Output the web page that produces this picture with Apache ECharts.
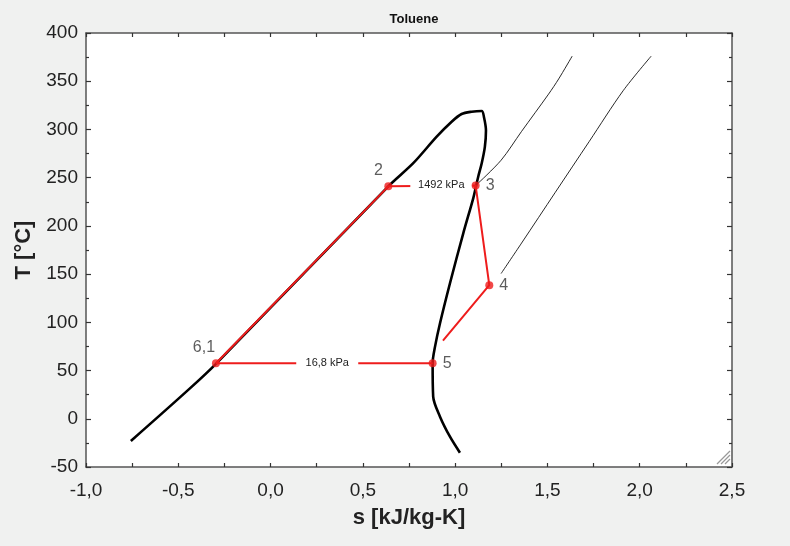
<!DOCTYPE html>
<html>
<head>
<meta charset="utf-8">
<title>Toluene T-s</title>
<script src="https://cdn.jsdelivr.net/npm/echarts@6/dist/echarts.min.js"></script>
<style>
  html, body { margin: 0; padding: 0; background: #f0f1f0; }
  #main { width: 790px; height: 546px; }
</style>
</head>
<body>
<div id="main"></div>
<script>
// saturation dome: liquid side up, over the top, vapour side down  [s, T]
var domeLine = [
  [-0.757, -23], [-0.44, 31], [-0.296, 57], [0.638, 241],
  [0.773, 265], [0.900, 292.5], [0.981, 308], [1.035, 316], [1.089, 318.4],
  [1.144, 319.2], [1.156, 313], [1.167, 299], [1.161, 282], [1.144, 265],
  [1.125, 251], [1.113, 241], [1.098, 228.6], [1.044, 192.3], [0.972, 140.5],
  [0.918, 99], [0.891, 74.8], [0.878, 57.5], [0.881, 23], [0.918, 2.2],
  [0.972, -18.6], [1.026, -35.2]
];
// superheated isobars (thin)
var isobarHigh = [
  [1.121, 243.6], [1.249, 268.1], [1.360, 298], [1.506, 336.6], [1.561, 352.4], [1.634, 376]
];
var isobarLow = [
  [1.249, 150.6], [1.360, 182.2], [1.543, 234.9], [1.726, 287.4], [1.910, 340.1], [2.062, 376]
];
// cycle state points
var pointNames = ['6,1', '2', '3', '4', '5'];
var pointS = [-0.296, 0.638, 1.111, 1.185, 0.878];
var pointT = [57.5, 241, 242, 138.5, 57.5];
var labelPos = ['top', 'top', 'right', 'right', 'right'];
// red cycle path (4 -> 5 stops short, like the original)
var cyclePath = [
  [-0.296, 57.5], [0.638, 241], [1.111, 242], [1.185, 138.5], [0.934, 81]
];
var cycleBottom = [[0.878, 57.5], [-0.296, 57.5]];
// pressure labels
var pressText = ['1492 kPa', '16,8 kPa'];
var pressS = [0.925, 0.307];
var pressT = [242, 57.5];

var xTicks = { min: -1.0, max: 2.5, step: 0.5 };
var yTicks = { min: -50, max: 400, step: 50 };

var FONT = "'Liberation Sans', Arial, sans-serif";
var chart = echarts.init(document.getElementById('main'), null, { renderer: 'canvas' });

function axisBase(extra) {
  var base = {
    type: 'value',
    axisLine: { show: true, onZero: false, lineStyle: { color: '#555', width: 1.5 } },
    axisTick: { show: true, inside: true, length: 5, lineStyle: { color: '#333', width: 1.2 } },
    minorTick: { show: true, splitNumber: 2, length: 3, lineStyle: { color: '#333', width: 1.2 } },
    splitLine: { show: false },
    minorSplitLine: { show: false }
  };
  return Object.assign(base, extra);
}

var points = pointNames.map(function (n, i) {
  return {
    value: [pointS[i], pointT[i]],
    name: n,
    label: { position: labelPos[i], distance: labelPos[i] === 'top' ? 4 : 6 }
  };
});
points[0].label.offset = [-12, 0];
points[1].label.offset = [-10, 0];

var pressData = pressText.map(function (t, i) {
  return { value: [pressS[i], pressT[i]], name: t };
});

chart.setOption({
  backgroundColor: '#f0f1f0',
  animation: false,
  title: {
    text: 'Toluene',
    left: 409, top: 8, textAlign: 'center',
    textStyle: { fontFamily: FONT, fontSize: 13, fontWeight: 'bold', color: '#111' }
  },
  grid: {
    left: 86, right: 58, top: 33, bottom: 79,
    show: true, backgroundColor: '#ffffff', borderWidth: 0
  },
  xAxis: [
    axisBase({
      min: xTicks.min, max: xTicks.max, interval: xTicks.step, position: 'bottom',
      name: 's [kJ/kg-K]', nameLocation: 'middle', nameGap: 40,
      nameTextStyle: { fontFamily: FONT, fontSize: 22, fontWeight: 'bold', color: '#222' },
      axisLabel: {
        margin: 14, fontFamily: FONT, fontSize: 19, color: '#222',
        formatter: function (v) { return v.toFixed(1).replace('.', ','); }
      },
      axisTick: { show: true, inside: true, length: 4, lineStyle: { color: '#333', width: 1.2 } },
      minorTick: { show: true, splitNumber: 2, length: 4, lineStyle: { color: '#333', width: 1.2 } }
    }),
    axisBase({
      min: xTicks.min, max: xTicks.max, interval: xTicks.step, position: 'top',
      axisLabel: { show: false },
      axisTick: { show: true, inside: true, length: 4, lineStyle: { color: '#333', width: 1.2 } },
      minorTick: { show: true, splitNumber: 2, length: 4, lineStyle: { color: '#333', width: 1.2 } }
    })
  ],
  yAxis: [
    axisBase({
      min: yTicks.min, max: yTicks.max, interval: yTicks.step, position: 'left',
      name: 'T [°C]', nameLocation: 'middle', nameGap: 48,
      nameTextStyle: { fontFamily: FONT, fontSize: 22, fontWeight: 'bold', color: '#222' },
      axisLabel: { margin: 8, fontFamily: FONT, fontSize: 19, color: '#222' }
    }),
    axisBase({
      min: yTicks.min, max: yTicks.max, interval: yTicks.step, position: 'right',
      axisLabel: { show: false }
    })
  ],
  graphic: [
    { type: 'line', shape: { x1: 717, y1: 464, x2: 730, y2: 451 }, style: { stroke: '#999', lineWidth: 1.3 } },
    { type: 'line', shape: { x1: 721, y1: 464, x2: 730, y2: 455 }, style: { stroke: '#999', lineWidth: 1.3 } },
    { type: 'line', shape: { x1: 725, y1: 464, x2: 730, y2: 459 }, style: { stroke: '#999', lineWidth: 1.3 } }
  ],
  series: [
    {
      type: 'line', data: domeLine, showSymbol: false, symbol: 'none', z: 2, smooth: 0.3,
      lineStyle: { color: '#000', width: 2.6 }
    },
    {
      type: 'line', data: isobarHigh, showSymbol: false, symbol: 'none', z: 2, smooth: 0.3,
      lineStyle: { color: '#111', width: 0.9 }
    },
    {
      type: 'line', data: isobarLow, showSymbol: false, symbol: 'none', z: 2, smooth: 0.3,
      lineStyle: { color: '#111', width: 0.9 }
    },
    {
      type: 'line', data: cyclePath, showSymbol: false, symbol: 'none', z: 3,
      lineStyle: { color: '#ee1c1c', width: 2 }
    },
    {
      type: 'line', data: cycleBottom, showSymbol: false, symbol: 'none', z: 3,
      lineStyle: { color: '#ee1c1c', width: 2 }
    },
    {
      type: 'scatter', data: pressData, symbol: 'rect', symbolSize: [62, 12], z: 4,
      itemStyle: { color: '#ffffff', opacity: 1 },
      emphasis: { disabled: true },
      label: {
        show: true, position: 'inside', formatter: '{b}',
        fontFamily: FONT, fontSize: 11, color: '#222'
      }
    },
    {
      type: 'scatter', data: points, symbol: 'circle', symbolSize: 8, z: 5,
      itemStyle: { color: '#ee1c1c' },
      label: { show: true, formatter: '{b}', fontFamily: FONT, fontSize: 16, color: '#333' }
    }
  ]
});
</script>
</body>
</html>
